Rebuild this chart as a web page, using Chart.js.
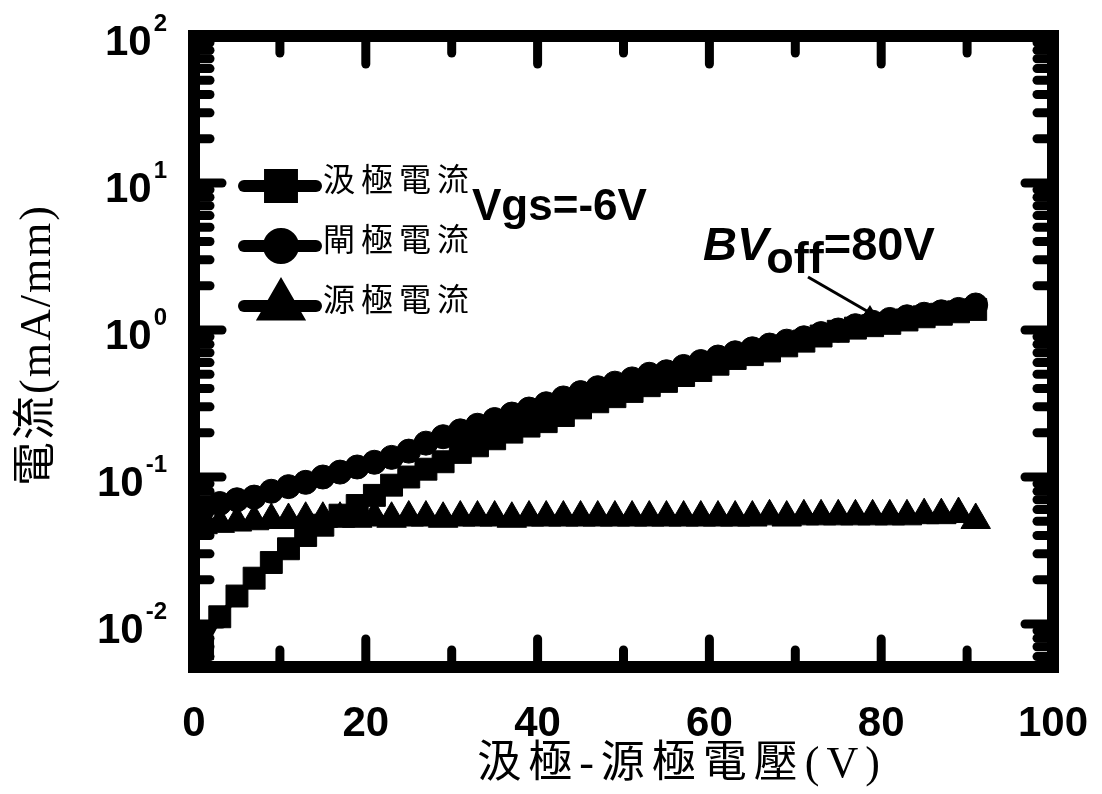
<!DOCTYPE html>
<html>
<head>
<meta charset="utf-8">
<script src="https://cdn.jsdelivr.net/npm/chart.js@4.4.1/dist/chart.umd.min.js"></script>
<style>
  html, body { margin: 0; padding: 0; background: #fff; }
  canvas { display: block; }
</style>
</head>
<body>
<canvas id="myChart" width="1102" height="794"></canvas>
<script>
// drain-source voltage (V)
const voltage = [1, 3, 5, 7, 9, 11, 13, 15, 17, 19, 21, 23, 25, 27, 29, 31, 33, 35, 37, 39,
    41, 43, 45, 47, 49, 51, 53, 55, 57, 59, 61, 63, 65, 67, 69, 71, 73, 75, 77, 79,
    81, 83, 85, 87, 89, 91];
// currents (mA/mm)
const drainCurrent = [0.0068, 0.0112, 0.0155, 0.0205, 0.0262, 0.0325, 0.040, 0.047, 0.055, 0.064,
    0.075, 0.088, 0.100, 0.113, 0.127, 0.147, 0.163, 0.182, 0.202, 0.222,
    0.238, 0.262, 0.295, 0.325, 0.352, 0.382, 0.418, 0.447, 0.49, 0.53,
    0.585, 0.64, 0.68, 0.72, 0.78, 0.84, 0.91, 0.98, 1.03, 1.07,
    1.11, 1.17, 1.23, 1.28, 1.33, 1.38];
const gateCurrent = [0.060, 0.066, 0.070, 0.073, 0.080, 0.086, 0.092, 0.100, 0.108, 0.117,
    0.126, 0.136, 0.150, 0.170, 0.188, 0.206, 0.225, 0.246, 0.268, 0.290,
    0.315, 0.345, 0.375, 0.405, 0.435, 0.465, 0.500, 0.520, 0.565, 0.610,
    0.655, 0.700, 0.745, 0.790, 0.840, 0.885, 0.945, 1.00, 1.07, 1.13,
    1.18, 1.23, 1.28, 1.33, 1.38, 1.48];
const sourceCurrent = [0.047, 0.048, 0.049, 0.050, 0.051, 0.051, 0.052, 0.052, 0.052, 0.052,
    0.053, 0.052, 0.053, 0.053, 0.052, 0.053, 0.053, 0.053, 0.052, 0.053,
    0.053, 0.053, 0.053, 0.053, 0.053, 0.053, 0.053, 0.053, 0.053, 0.053,
    0.053, 0.053, 0.053, 0.054, 0.053, 0.054, 0.054, 0.054, 0.054, 0.054,
    0.054, 0.054, 0.055, 0.055, 0.056, 0.051];
const seriesNames = ['汲極電流', '閘極電流', '源極電流'];

const xTicks = [0, 20, 40, 60, 80, 100];
const xMinorTicks = [10, 30, 50, 70, 90];
const yTicks = [0.01, 0.1, 1, 10, 100];
const yExponents = ['-2', '-1', '0', '1', '2'];
const yDecades = [0.001, 0.01, 0.1, 1, 10];
const xTitle = '汲極-源極電壓(V)';
const yTitle = '電流(mA/mm)';

const toPoints = vals => voltage.map((v, i) => ({ x: v, y: vals[i] }));

const FONT = '"Liberation Sans", Arial, sans-serif';
const CJK = '"Liberation Serif", "Noto Sans CJK TC", serif';

const decorations = {
    id: 'decorations',
    beforeDraw(chart) {
        const ctx = chart.ctx;
        ctx.save();
        ctx.fillStyle = '#fff';
        ctx.fillRect(0, 0, chart.width, chart.height);
        ctx.restore();
    },
    afterDatasetsDraw(chart) {
        const { ctx, chartArea: a, scales: { x, y } } = chart;
        ctx.save();
        ctx.strokeStyle = '#000';
        ctx.fillStyle = '#000';

        // frame
        ctx.lineWidth = 12;
        ctx.strokeRect(a.left, a.top, a.right - a.left, a.bottom - a.top);

        // inward ticks
        ctx.lineWidth = 9;
        ctx.lineCap = 'round';
        const seg = (x1, y1, x2, y2) => {
            ctx.beginPath();
            ctx.moveTo(x1, y1);
            ctx.lineTo(x2, y2);
            ctx.stroke();
        };
        const xt = (v, len) => {
            const px = x.getPixelForValue(v);
            seg(px, a.bottom, px, a.bottom - len);
            seg(px, a.top, px, a.top + len);
        };
        const yt = (v, len) => {
            const py = y.getPixelForValue(v);
            seg(a.left, py, a.left + len, py);
            seg(a.right, py, a.right - len, py);
        };
        xTicks.slice(1, -1).forEach(v => xt(v, 28));
        xMinorTicks.forEach(v => xt(v, 17));
        yTicks.slice(0, -1).forEach(v => yt(v, 28));
        yDecades.forEach(d => {
            for (let m = 2; m <= 9; m++) {
                const v = d * m;
                if (v > y.min && v < y.max) yt(v, 16);
            }
        });

        // x tick labels
        ctx.font = 'bold 42px ' + FONT;
        ctx.textAlign = 'center';
        ctx.textBaseline = 'alphabetic';
        xTicks.forEach(v => ctx.fillText(String(v), x.getPixelForValue(v), 736));

        // y tick labels 10^n
        ctx.textAlign = 'right';
        yTicks.forEach((v, i) => {
            const py = y.getPixelForValue(v);
            ctx.font = 'bold 24px ' + FONT;
            const ew = ctx.measureText(yExponents[i]).width;
            ctx.fillText(yExponents[i], 167, py - 5);
            ctx.font = 'bold 42px ' + FONT;
            ctx.fillText('10', 165 - ew, py + 19);
        });

        // axis titles
        ctx.font = '44px ' + CJK;
        ctx.textAlign = 'center';
        ctx.textBaseline = 'middle';
        ctx.letterSpacing = '7px';
        ctx.fillText(xTitle, 682, 765);
        ctx.letterSpacing = '2px';
        ctx.save();
        ctx.translate(38, 345);
        ctx.rotate(-Math.PI / 2);
        ctx.fillText(yTitle, 0, 0);
        ctx.restore();

        // legend
        chart.data.datasets.forEach((ds, i) => {
            const ry = 186 + i * 60;
            ctx.lineWidth = 12;
            ctx.lineCap = 'round';
            seg(244, ry, 316, ry);
            Chart.helpers.drawPoint(ctx, {
                pointStyle: ds.pointStyle, rotation: 0,
                radius: ds.pointRadius, borderWidth: 1
            }, 281, ry);
            ctx.font = '32px ' + CJK;
            ctx.letterSpacing = '6px';
            ctx.textAlign = 'left';
            ctx.textBaseline = 'middle';
            ctx.fillText(ds.label, 323, ry - 3);
        });
        ctx.letterSpacing = '0px';

        // annotations
        ctx.textAlign = 'left';
        ctx.textBaseline = 'alphabetic';
        ctx.font = 'bold 44px ' + FONT;
        ctx.fillText('Vgs=-6V', 472, 220);

        let tx = 703;
        ctx.font = 'italic bold 47px ' + FONT;
        ctx.fillText('BV', tx, 260);
        tx += ctx.measureText('BV').width - 2;
        ctx.font = 'bold 45px ' + FONT;
        ctx.fillText('off', tx, 273);
        tx += ctx.measureText('off').width;
        ctx.font = 'bold 47px ' + FONT;
        ctx.fillText('=80V', tx, 260);

        // pointer to the breakdown point
        ctx.lineWidth = 3;
        ctx.lineCap = 'butt';
        seg(808, 277, 872, 314);
        ctx.beginPath();
        ctx.moveTo(877, 317);
        ctx.lineTo(864, 314);
        ctx.lineTo(870, 305);
        ctx.closePath();
        ctx.fill();

        ctx.restore();
    }
};

new Chart(document.getElementById('myChart'), {
    type: 'line',
    data: {
        datasets: [{
            label: seriesNames[0],
            data: toPoints(drainCurrent),
            pointStyle: 'rect',
            pointRadius: 15.5
        }, {
            label: seriesNames[1],
            data: toPoints(gateCurrent),
            pointStyle: 'circle',
            pointRadius: 12
        }, {
            label: seriesNames[2],
            data: toPoints(sourceCurrent),
            pointStyle: 'triangle',
            pointRadius: 17
        }].map(ds => Object.assign(ds, {
            borderColor: '#000',
            backgroundColor: '#000',
            pointBackgroundColor: '#000',
            pointBorderColor: '#000',
            pointBorderWidth: 1,
            borderWidth: 6,
            tension: 0,
            fill: false
        }))
    },
    options: {
        responsive: false,
        animation: false,
        devicePixelRatio: 1,
        layout: { padding: { left: 194, right: 49, top: 36, bottom: 127 } },
        plugins: {
            legend: { display: false },
            tooltip: { enabled: false }
        },
        scales: {
            x: { type: 'linear', min: 0, max: 100, display: false },
            y: { type: 'logarithmic', min: 0.0051, max: 100, display: false }
        }
    },
    plugins: [decorations]
});
</script>
</body>
</html>
